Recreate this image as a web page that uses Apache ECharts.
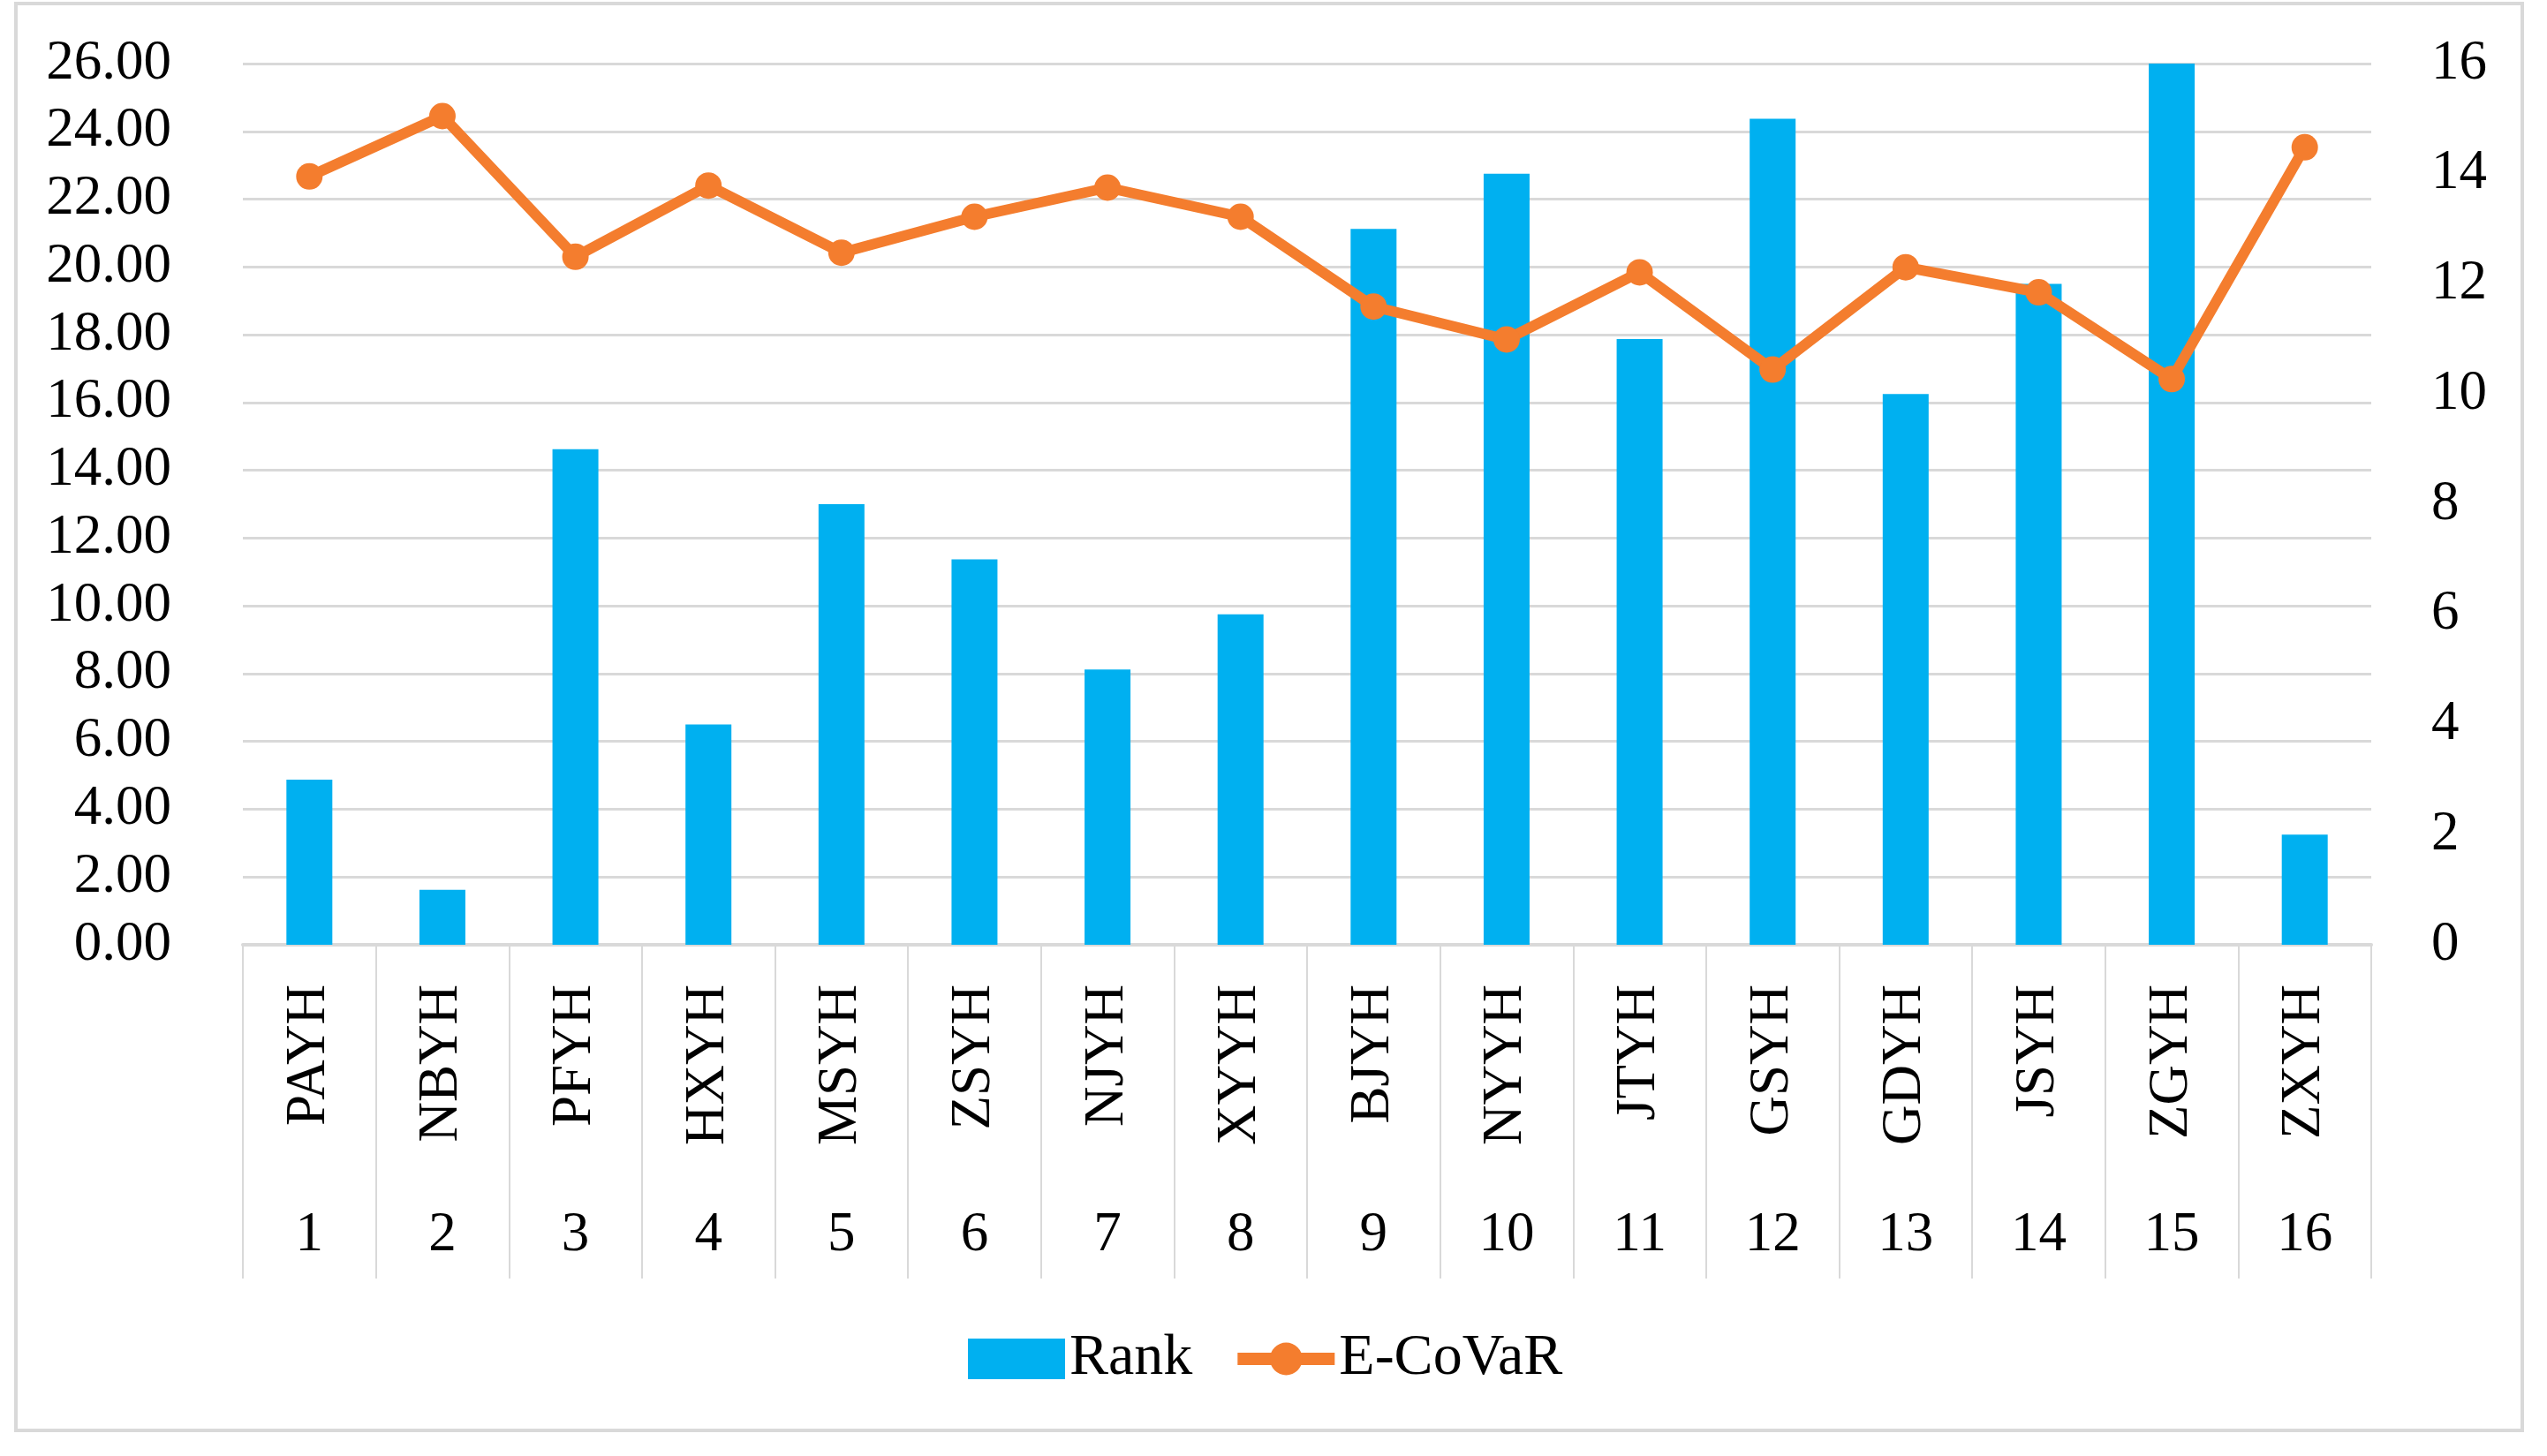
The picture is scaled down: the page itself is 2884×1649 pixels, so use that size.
<!DOCTYPE html>
<html>
<head>
<meta charset="utf-8">
<script src="https://cdn.jsdelivr.net/npm/echarts@6/dist/echarts.min.js"></script>
<style>
html,body{margin:0;padding:0;background:#fff;}
#chart{width:2884px;height:1649px;}
</style>
</head>
<body>
<div id="chart"></div>
<script>
const banks = ['PAYH','NBYH','PFYH','HXYH','MSYH','ZSYH','NJYH','XYYH','BJYH','NYYH','JTYH','GSYH','GDYH','JSYH','ZGYH','ZXYH'];
const order = ['1','2','3','4','5','6','7','8','9','10','11','12','13','14','15','16'];
const rank = [3,1,9,4,8,7,5,6,13,14,11,15,10,12,16,2];
const ecovar = [22.67,24.45,20.30,22.40,20.42,21.48,22.34,21.48,18.83,17.86,19.84,16.97,19.99,19.25,16.69,23.53];
const leftTicks = {min:0,max:26,interval:2};
const rightTicks = {min:0,max:16,interval:2};

const FONT = 'Liberation Serif';
const FS = 63;
const chart = echarts.init(document.getElementById('chart'));
chart.setOption({
  backgroundColor:'#fff',
  animation:false,
  textStyle:{fontFamily:FONT,color:'#000'},
  graphic:[{type:'rect',shape:{x:18,y:4,width:2838,height:1616},style:{fill:'none',stroke:'#D9D9D9',lineWidth:4},silent:true}],
  grid:{left:275,right:199,top:72,bottom:579,containLabel:false},
  legend:{
    left:1096, top:1506, itemWidth:110, itemHeight:46, itemGap:44, padding:0,
    textStyle:{fontFamily:FONT,fontSize:66,color:'#000'},
    data:[{name:'Rank',icon:'rect'},{name:'E-CoVaR',lineStyle:{width:14}}]
  },
  xAxis:[
    {type:'category',data:banks,position:'bottom',
     axisLine:{lineStyle:{color:'#D9D9D9',width:4}},
     axisTick:{show:true,interval:0,length:378,lineStyle:{color:'#D9D9D9',width:2}},
     axisLabel:{rotate:90,interval:0,margin:45,fontFamily:FONT,fontSize:FS,color:'#000'}},
    {type:'category',data:order,position:'bottom',
     axisLine:{show:false},axisTick:{show:false},
     axisLabel:{interval:0,margin:298,fontFamily:FONT,fontSize:FS,color:'#000'}}
  ],
  yAxis:[
    {type:'value',min:leftTicks.min,max:leftTicks.max,interval:leftTicks.interval,
     axisLine:{show:false},axisTick:{show:false},
     splitLine:{lineStyle:{color:'#D9D9D9',width:3}},
     axisLabel:{margin:81,fontFamily:FONT,fontSize:FS,color:'#000',formatter:v=>v.toFixed(2)}},
    {type:'value',min:rightTicks.min,max:rightTicks.max,interval:rightTicks.interval,position:'right',
     axisLine:{show:false},axisTick:{show:false},splitLine:{show:false},
     axisLabel:{margin:68,fontFamily:FONT,fontSize:FS,color:'#000'}}
  ],
  series:[
    {name:'Rank',type:'bar',xAxisIndex:0,yAxisIndex:1,data:rank,barWidth:52,itemStyle:{color:'#00B0F0'}},
    {name:'E-CoVaR',type:'line',xAxisIndex:0,yAxisIndex:0,data:ecovar,symbol:'circle',symbolSize:30,
     lineStyle:{color:'#F47D2E',width:12},itemStyle:{color:'#F47D2E'}}
  ]
});
</script>
</body>
</html>
